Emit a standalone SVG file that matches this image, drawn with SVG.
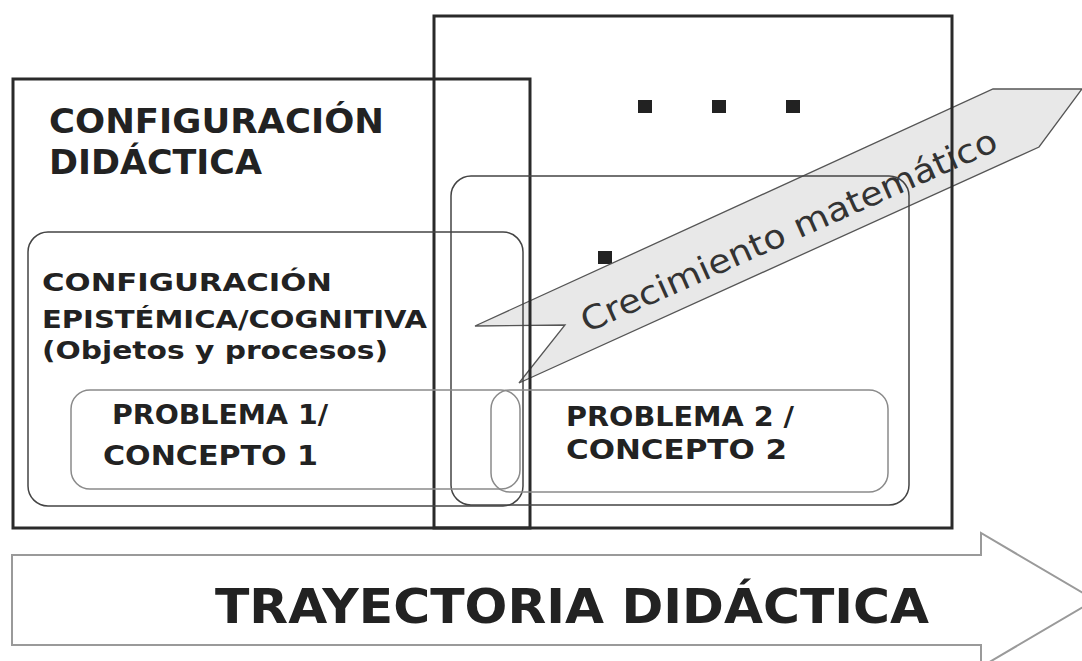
<svg xmlns="http://www.w3.org/2000/svg" width="1082" height="661" viewBox="0 0 1082 661">
<style>
.bg{fill:#ffffff}
.big{fill:none;stroke:#2a2a2a;stroke-width:3}
.epi{fill:none;stroke:#444;stroke-width:1.5}
.prob{fill:none;stroke:#8a8a8a;stroke-width:1.5}
.t{font-family:"DejaVu Sans","Liberation Sans",sans-serif;font-weight:bold;fill:#222}
.banner{fill:#e8e8e8;stroke:#555;stroke-width:1.3}
.btxt{font-family:"DejaVu Sans","Liberation Sans",sans-serif;font-weight:normal;fill:#333}
.traj{fill:#ffffff;stroke:#9a9a9a;stroke-width:2}
.dot{fill:#222}
</style>
<rect class="bg" x="0" y="0" width="1082" height="661"/>

<g id="trayectoria">
<polygon class="traj" points="12,555 981,555 981,533 1095,600 981,667 981,645 12,645"/>
<text class="t" x="215" y="623" font-size="48" textLength="714" lengthAdjust="spacingAndGlyphs">TRAYECTORIA DIDÁCTICA</text>
</g>

<g id="dots">
<rect class="dot" x="638" y="100" width="14" height="13"/>
<rect class="dot" x="712" y="100" width="14" height="13"/>
<rect class="dot" x="786" y="100" width="14" height="13"/>
<rect class="dot" x="598" y="251" width="14" height="13"/>
</g>

<g id="crecimiento">
<polygon class="banner" points="475,326 993,89 1082,89 1039,147 519,383 565,325"/>
<text class="btxt" font-size="33" transform="translate(587,333) rotate(-24)" textLength="452" lengthAdjust="spacingAndGlyphs">Crecimiento matemático</text>
</g>

<g id="configuracion-didactica">
<rect class="big" x="13" y="79" width="517" height="449"/>
<text class="t" font-size="33"><tspan x="49" y="133" textLength="335" lengthAdjust="spacingAndGlyphs">CONFIGURACIÓN</tspan><tspan x="49" y="174" textLength="213" lengthAdjust="spacingAndGlyphs">DIDÁCTICA</tspan></text>
</g>

<g id="configuracion-didactica-2">
<rect class="big" x="434" y="16" width="518" height="512"/>
</g>

<g id="configuracion-epistemica">
<rect class="epi" x="28" y="232" width="495" height="274" rx="20"/>
<text class="t" font-size="25"><tspan x="42" y="291" textLength="290" lengthAdjust="spacingAndGlyphs">CONFIGURACIÓN</tspan><tspan x="42" y="328" textLength="385" lengthAdjust="spacingAndGlyphs">EPISTÉMICA/COGNITIVA</tspan><tspan x="42" y="359" textLength="346" lengthAdjust="spacingAndGlyphs">(Objetos y procesos)</tspan></text>
</g>

<g id="configuracion-epistemica-2">
<rect class="epi" x="451" y="176" width="458" height="329" rx="20"/>
</g>

<g id="problema-1">
<rect class="prob" x="71" y="390" width="449" height="99" rx="19"/>
<text class="t" font-size="26"><tspan x="112" y="424" textLength="216" lengthAdjust="spacingAndGlyphs">PROBLEMA 1/</tspan><tspan x="103" y="465" textLength="215" lengthAdjust="spacingAndGlyphs">CONCEPTO 1</tspan></text>
</g>

<g id="problema-2">
<rect class="prob" x="491" y="390" width="397" height="102" rx="19"/>
<text class="t" font-size="26"><tspan x="566" y="426" textLength="228" lengthAdjust="spacingAndGlyphs">PROBLEMA 2 /</tspan><tspan x="566" y="459" textLength="221" lengthAdjust="spacingAndGlyphs">CONCEPTO 2</tspan></text>
</g>

<g id="connectors"></g>
</svg>
